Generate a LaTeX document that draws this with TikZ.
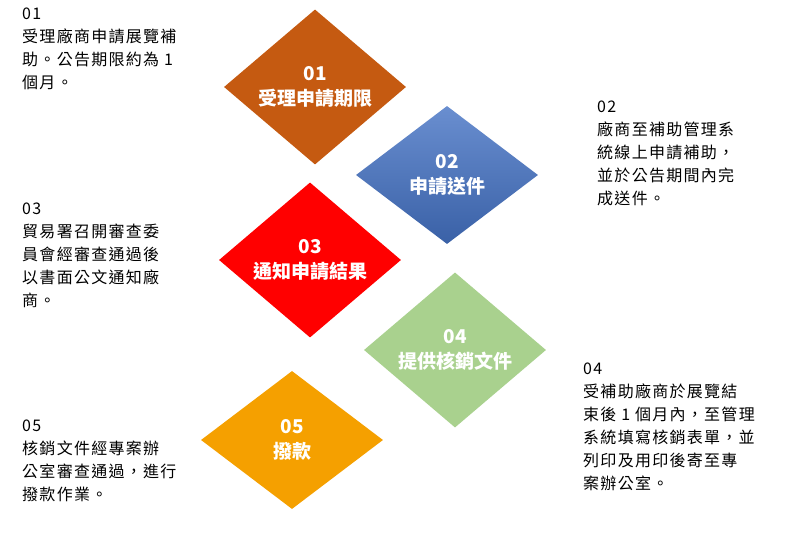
\documentclass[tikz,border=0pt]{standalone}
\usepackage{fontspec}
\setmainfont{Noto Sans CJK TC}
\newfontfamily\descfont[LetterSpace=8]{Noto Sans CJK TC}
\usetikzlibrary{shapes.geometric}
\definecolor{cA}{HTML}{C55A11}
\definecolor{cB}{HTML}{4472C4}
\definecolor{cC}{HTML}{FF0000}
\definecolor{cD}{HTML}{A9D18E}
\definecolor{cE}{HTML}{F5A000}
\begin{document}
\begin{tikzpicture}[x=1pt,y=1pt,
  dia/.style={diamond,inner sep=0pt,minimum width=182pt,minimum height=138pt,text=white,font=\bfseries\fontsize{19}{25}\selectfont,align=center},
  desc/.style={anchor=north west,align=left,inner sep=0pt,font=\descfont\fontsize{16}{23}\selectfont}]
\useasboundingbox (0,0) rectangle (805,548);
\fill[white] (0,0) rectangle (805,548);
\node[dia,fill=cA] (d1) at (315,461) {01\\受理申請期限};
\node[dia,top color=cB!80!white,bottom color=cB!85!black] (d2) at (447,373) {02\\申請送件};
\node[dia,fill=cC] (d3) at (310,288) {03\\通知申請結果};
\node[dia,fill=cD] (d4) at (455,198) {04\\提供核銷文件};
\node[dia,fill=cE] (d5) at (292,108) {05\\撥款};
\node[desc] (t1) at (22,540) {01\\受理廠商申請展覽補\\助。公告期限約為 1\\個月。};
\node[desc] (t2) at (597,447) {02\\廠商至補助管理系\\統線上申請補助，\\並於公告期間內完\\成送件。};
\node[desc] (t3) at (22,345) {03\\貿易署召開審查委\\員會經審查通過後\\以書面公文通知廠\\商。};
\node[desc] (t4) at (583,185) {04\\受補助廠商於展覽結\\束後 1 個月內，至管理\\系統填寫核銷表單，並\\列印及用印後寄至專\\案辦公室。};
\node[desc] (t5) at (22,128) {05\\核銷文件經專案辦\\公室審查通過，進行\\撥款作業。};
\end{tikzpicture}
\end{document}
